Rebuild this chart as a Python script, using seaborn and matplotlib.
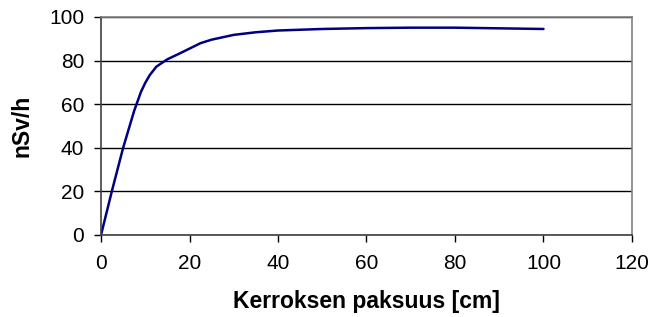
import pandas as pd
import seaborn as sns
import matplotlib.pyplot as plt

# layer thickness (cm) vs dose rate (nSv/h)
THICKNESS_CM = [0, 2.5, 5, 7.5, 9, 10, 11, 12.5, 15, 17.5, 20, 22.5, 25, 30, 35, 40,
                50, 60, 70, 80, 90, 100]
DOSE_NSV_H = [0, 20.5, 40, 57, 65.5, 69.8, 73.3, 77.2, 80.6, 83, 85.5, 88, 89.6, 91.8, 93,
              93.8, 94.5, 94.9, 95.1, 95.1, 94.8, 94.5]

X_TICKS = [0, 20, 40, 60, 80, 100, 120]
Y_TICKS = [0, 20, 40, 60, 80, 100]


def main():
    sns.set_style('white')
    plt.rcParams['font.family'] = ['Liberation Sans', 'DejaVu Sans']

    df = pd.DataFrame({'x': THICKNESS_CM, 'y': DOSE_NSV_H})

    fig = plt.figure(figsize=(6.53, 3.17), dpi=100)
    ax = fig.add_axes([0.1547, 0.2587, 0.8131, 0.6877])
    sns.lineplot(data=df, x='x', y='y', ax=ax, color='#000080', linewidth=1.8)

    ax.set_xlim(0, 120)
    ax.set_ylim(0, 100)
    ax.set_xticks(X_TICKS)
    ax.set_yticks(Y_TICKS)
    ax.tick_params(axis='both', direction='out', length=5, width=1, color='black',
                   labelsize=15, labelcolor='black', left=True, bottom=True)
    ax.tick_params(axis='x', pad=9)
    ax.tick_params(axis='y', pad=7)
    ax.yaxis.grid(True, color='black', linewidth=1)
    ax.set_axisbelow(True)

    for side in ['top', 'right']:
        ax.spines[side].set_color('#808080')
        ax.spines[side].set_linewidth(1.2)
    for side in ['left', 'bottom']:
        ax.spines[side].set_color('#404040')
        ax.spines[side].set_linewidth(1.2)

    ax.set_xlabel('Kerroksen paksuus [cm]', fontsize=16.5, fontweight='bold',
                  color='black', labelpad=12)
    ax.set_ylabel('nSv/h', fontsize=16.5, fontweight='bold', color='black', labelpad=11)

    fig.savefig('out.png', dpi=100)


if __name__ == "__main__":
    main()
